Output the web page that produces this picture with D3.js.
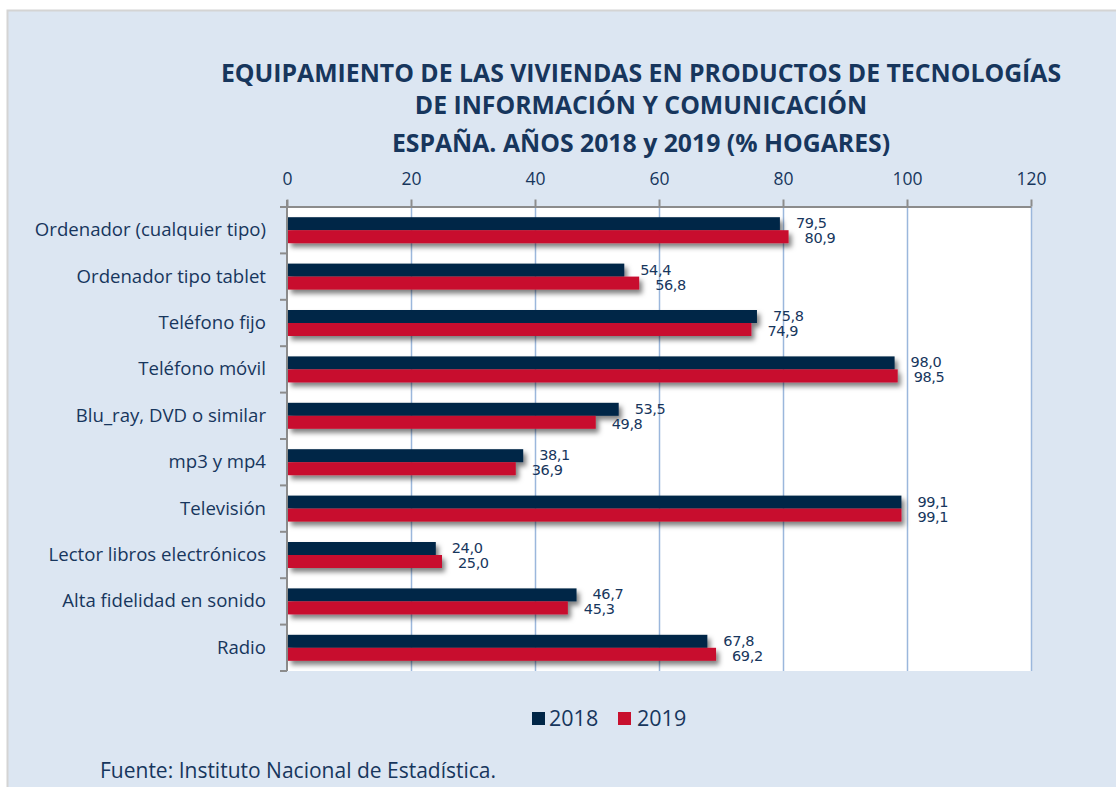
<!DOCTYPE html>
<html>
<head>
<meta charset="utf-8">
<script src="https://cdn.jsdelivr.net/npm/d3@7"></script>
<style>
body{margin:0;background:#ffffff;}
</style>
</head>
<body>
<div id="grafico"></div>
<script>

const categorias = [
"Ordenador (cualquier tipo)",
"Ordenador tipo tablet",
"Teléfono fijo",
"Teléfono móvil",
"Blu_ray, DVD o similar",
"mp3 y mp4",
"Televisión",
"Lector libros electrónicos",
"Alta fidelidad en sonido",
"Radio"
];

const valores2018 = [79.5, 54.4, 75.8, 98.0, 53.5, 38.1, 99.1, 24.0, 46.7, 67.8];
const valores2019 = [80.9, 56.8, 74.9, 98.5, 49.8, 36.9, 99.1, 25.0, 45.3, 69.2];

const series = ["2018", "2019"];
const colores = ["#002647", "#c8102e"];

const ticks = [0, 20, 40, 60, 80, 100, 120];

const titulo = [
"EQUIPAMIENTO DE LAS VIVIENDAS EN PRODUCTOS DE TECNOLOGÍAS",
"DE INFORMACIÓN Y COMUNICACIÓN",
"ESPAÑA. AÑOS 2018 y 2019 (% HOGARES)"
];

const fuente = "Fuente: Instituto Nacional de Estadística.";


const width = 1116;
const height = 787;
const textoColor = "#17365d";
const letra = "'Open Sans', Lato, sans-serif";

const svg = d3.select("#grafico")
.append("svg")
.attr("width", width)
.attr("height", height)
.style("font-family", letra);

// sombra de las barras
const defs = svg.append("defs");
defs.append("filter")
.attr("id", "sombra")
.attr("x", "-5%").attr("y", "-30%")
.attr("width", "115%").attr("height", "200%")
.append("feDropShadow")
.attr("dx", 3).attr("dy", 4)
.attr("stdDeviation", 2.4)
.attr("flood-color", "#000")
.attr("flood-opacity", 0.5);

// fondo
svg.append("rect")
.attr("x", 7.5).attr("y", 10.5)
.attr("width", width)
.attr("height", height)
.attr("fill", "#dce6f2")
.attr("stroke", "#d4d4d4")
.attr("stroke-width", 2);

// TITULO
svg.selectAll(".titulo")
.data(titulo)
.enter()
.append("text")
.attr("x", 641)
.attr("y", (d, i) => [82, 114, 152][i])
.attr("text-anchor", "middle")
.style("font-size", "24.8px")
.style("font-weight", "bold")
.attr("fill", textoColor)
.text(d => d);

const x = d3.scaleLinear()
.domain([0, 120])
.range([287, 1031]);

const y = d3.scaleBand()
.domain(categorias)
.range([207, 671]);

const ySerie = d3.scaleBand()
.domain(series)
.range([y.bandwidth() / 2 - 13, y.bandwidth() / 2 + 13]);

// area del grafico
svg.append("rect")
.attr("x", x(0))
.attr("y", 207)
.attr("width", x(120) - x(0))
.attr("height", 671 - 207)
.attr("fill", "#ffffff");

// REJILLA
svg.selectAll(".rejilla")
.data(ticks.slice(1))
.enter()
.append("line")
.attr("x1", d => x(d) + 0.5)
.attr("x2", d => x(d) + 0.5)
.attr("y1", 207)
.attr("y2", 671)
.attr("stroke", "#9bb7dc")
.attr("stroke-width", 1.5);

// EJE SUPERIOR
const ejeX = svg.append("g")
.attr("transform", "translate(0,206.5)")
.call(d3.axisTop(x).tickValues(ticks).tickSize(7).tickSizeOuter(0).tickPadding(14.5));

ejeX.select(".domain").attr("stroke", "#8c8c8c").attr("stroke-width", 2);
ejeX.selectAll(".tick line").attr("stroke", "#8c8c8c").attr("stroke-width", 2);
ejeX.selectAll(".tick text")
.attr("fill", textoColor)
.style("font-size", "17.5px")
.style("font-family", letra);

// EJE IZQUIERDO
const ejeY = svg.append("g")
.attr("transform", "translate(287,0)");

ejeY.append("line")
.attr("x1", 0).attr("x2", 0)
.attr("y1", 200).attr("y2", 671)
.attr("stroke", "#8c8c8c")
.attr("stroke-width", 2);

ejeY.selectAll(".marca")
.data(categorias.map(c => y(c)).concat([671]))
.enter()
.append("line")
.attr("x1", -7).attr("x2", 0)
.attr("y1", d => d)
.attr("y2", d => d)
.attr("stroke", "#8c8c8c")
.attr("stroke-width", 2);

ejeY.selectAll(".etiqueta")
.data(categorias)
.enter()
.append("text")
.attr("x", -21)
.attr("y", d => y(d) + y.bandwidth() / 2 + 6)
.attr("text-anchor", "end")
.attr("fill", textoColor)
.style("font-size", "18.6px")
.text(d => d);

// BARRAS
const datos = [];
categorias.forEach((c, i) => {
datos.push({categoria: c, serie: "2018", valor: valores2018[i]});
datos.push({categoria: c, serie: "2019", valor: valores2019[i]});
});

svg.append("g")
.attr("filter", "url(#sombra)")
.selectAll("rect")
.data(datos)
.enter()
.append("rect")
.attr("x", x(0) + 1)
.attr("y", d => y(d.categoria) + ySerie(d.serie))
.attr("width", d => x(d.valor) - x(0) - 1)
.attr("height", ySerie.bandwidth())
.attr("fill", d => colores[series.indexOf(d.serie)]);

// ETIQUETAS DE DATOS
svg.selectAll(".valor")
.data(datos)
.enter()
.append("text")
.attr("x", d => x(d.valor) + 16)
.attr("y", d => y(d.categoria) + ySerie(d.serie) + 11 + (d.serie === "2019" ? 2 : 0))
.attr("fill", textoColor)
.style("font-family", "'DejaVu Sans', sans-serif")
.style("font-size", "14.5px")
.style("letter-spacing", "-0.4px")
.text(d => d.valor.toFixed(1).replace(".", ","));

// LEYENDA
const leyenda = svg.selectAll(".leyenda")
.data(series)
.enter()
.append("g")
.attr("transform", (d, i) => "translate(" + [532, 618][i] + ",712)");

leyenda.append("rect")
.attr("width", 13)
.attr("height", 13)
.attr("fill", (d, i) => colores[i]);

leyenda.append("text")
.attr("x", (d, i) => [17, 19][i])
.attr("y", 14)
.attr("fill", textoColor)
.style("font-size", "21.5px")
.text(d => d);

// FUENTE
svg.append("text")
.attr("x", 100)
.attr("y", 778)
.attr("fill", textoColor)
.style("font-size", "21px")
.text(fuente);

</script>
</body>
</html>
